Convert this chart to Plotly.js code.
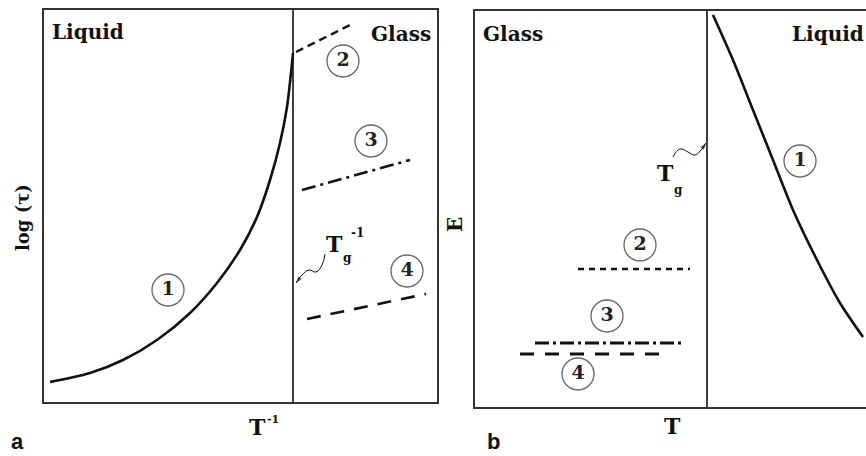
<!DOCTYPE html>
<html><head><meta charset="utf-8">
<script src="https://cdn.plot.ly/plotly-3.0.1.min.js"></script>
<style>html,body{margin:0;padding:0;background:#fff}</style>
</head><body>
<div id="chart" style="width:866px;height:456px"></div>
<script>
// ---- Panel a : log(tau) vs 1/T (units) ----
const a_curve1_x = [50, 90, 123, 157, 190, 217, 240, 257, 270, 280, 287, 291, 293];
const a_curve1_y = [382, 373, 360, 340, 313, 283, 250, 217, 180, 143, 107, 73, 53];
const a_line2_x = [296, 354];
const a_line2_y = [52, 23];
const a_line3_x = [302, 410];
const a_line3_y = [190, 160];
const a_line4_x = [307, 426];
const a_line4_y = [319, 294];
const a_tg = 293;
const a_circle_x = [168, 343, 371, 407];
const a_circle_y = [290, 61, 141, 271];
const a_squig_x = [325, 322, 316, 309, 302, 296];
const a_squig_y = [254, 265, 272, 270, 275, 283];

// ---- Panel b : E vs T ----
const b_curve1_x = [713, 733, 753, 773, 793, 817, 840, 863];
const b_curve1_y = [15, 60, 110, 160, 210, 260, 303, 337];
const b_line2_x = [578, 690];
const b_line2_y = [269, 269];
const b_line3_x = [535, 682];
const b_line3_y = [343, 343];
const b_line4_x = [520, 662];
const b_line4_y = [354, 354];
const b_tg = 707;
const b_circle_x = [800, 640, 607, 578];
const b_circle_y = [161, 245, 316, 374];
const b_squig_x = [673, 680, 688, 695, 701, 706];
const b_squig_y = [157, 149, 152, 155, 150, 143];

const circleLabels = ["1", "2", "3", "4"];

const W = 866, H = 456;
const aX = [44, 437], aY = [402, 10];
const bX = [475, 866], bY = [407, 11];

const serif = "DejaVu Serif";
const ink = "#111";

function line(x, y, xa, ya, w, dash) {
  return {x, y, xaxis: xa, yaxis: ya, mode: "lines", type: "scatter",
    line: {color: ink, width: w, dash: dash || "solid", shape: "spline", smoothing: 0.8},
    hoverinfo: "skip", showlegend: false, cliponaxis: false};
}
function circles(x, y, xa, ya) {
  return {x, y, xaxis: xa, yaxis: ya, mode: "markers+text", type: "scatter",
    text: circleLabels, textposition: "middle center",
    textfont: {family: serif, size: 19, color: "#222", weight: "bold"},
    marker: {symbol: "circle-open", size: 32, color: "#666", line: {width: 1.3, color: "#666"}},
    hoverinfo: "skip", showlegend: false, cliponaxis: false};
}
function squig(x, y, xa, ya) {
  const sym = x.map((_, i) => i === x.length - 1 ? "arrow" : "circle");
  const sz = x.map((_, i) => i === x.length - 1 ? 7 : 0);
  return {x, y, xaxis: xa, yaxis: ya, mode: "lines+markers", type: "scatter",
    line: {color: ink, width: 1, shape: "spline", smoothing: 1.3},
    marker: {symbol: sym, size: sz, color: ink, angleref: "previous", line: {width: 0}},
    hoverinfo: "skip", showlegend: false, cliponaxis: false};
}

const traces = [
  line(a_curve1_x, a_curve1_y, "x", "y", 2.6),
  line(a_line2_x, a_line2_y, "x", "y", 2.4, "8px,5px"),
  line(a_line3_x, a_line3_y, "x", "y", 2.6, "14px,5px,3px,5px"),
  line(a_line4_x, a_line4_y, "x", "y", 2.6, "14px,10px"),
  line([a_tg, a_tg], aY, "x", "y", 1.6),
  squig(a_squig_x, a_squig_y, "x", "y"),
  circles(a_circle_x, a_circle_y, "x", "y"),
  line(b_curve1_x, b_curve1_y, "x2", "y2", 2.6),
  line(b_line2_x, b_line2_y, "x2", "y2", 2.4, "6px,5px"),
  line(b_line3_x, b_line3_y, "x2", "y2", 3, "14px,4px,3px,4px"),
  line(b_line4_x, b_line4_y, "x2", "y2", 3, "14px,11px"),
  line([b_tg, b_tg], bY, "x2", "y2", 1.6),
  squig(b_squig_x, b_squig_y, "x2", "y2"),
  circles(b_circle_x, b_circle_y, "x2", "y2")
];

const ax = (dom, rng, anchor, mirror) => ({domain: dom, range: rng, anchor,
  showgrid: false, zeroline: false, showticklabels: false, ticks: "",
  showline: true, linecolor: "#333", linewidth: 1.6, mirror, fixedrange: true});

const px = v => v / W, py = v => 1 - v / H;
const txt = (x, y, text, size, opts) => Object.assign({x: px(x), y: py(y), xref: "paper", yref: "paper",
  xanchor: "center", yanchor: "middle",
  text, showarrow: false, font: {family: serif, size, color: ink, weight: "bold"}}, opts || {});
const sans = {family: "Liberation Sans", size: 22, color: ink, weight: "bold"};

const annotations = [
  txt(50, 32, "Liquid", 20, {xanchor: "left"}),
  txt(433, 34, "Glass", 20, {xanchor: "right"}),
  txt(481, 34, "Glass", 20, {xanchor: "left"}),
  txt(866, 34, "Liquid", 20, {xanchor: "right"}),
  txt(22, 218, "log (τ)", 18, {textangle: -90}),
  txt(455, 225, "E", 20, {textangle: -90}),
  txt(257, 427, "T", 22),
  txt(273, 419, "-1", 11),
  txt(672, 426, "T", 22),
  txt(334, 244, "T", 22),
  txt(347, 258, "g", 12),
  txt(357, 233, "-1", 12),
  txt(665, 173, "T", 22),
  txt(678, 190, "g", 12),
  txt(17, 441, "a", 22, {font: sans}),
  txt(493, 441, "b", 22, {font: sans})
];

const layout = {
  width: W, height: H, margin: {l: 0, r: 0, t: 0, b: 0},
  paper_bgcolor: "#fff", plot_bgcolor: "#fff", showlegend: false,
  xaxis: ax([px(aX[0]), px(aX[1])], aX, "y", true),
  yaxis: ax([py(aY[0]), py(aY[1])], aY, "x", true),
  xaxis2: ax([px(bX[0]), 1], bX, "y2", true),
  yaxis2: ax([py(bY[0]), py(bY[1])], bY, "x2", false),
  annotations
};

Plotly.newPlot("chart", traces, layout, {staticPlot: true, displayModeBar: false});
</script>
</body></html>
